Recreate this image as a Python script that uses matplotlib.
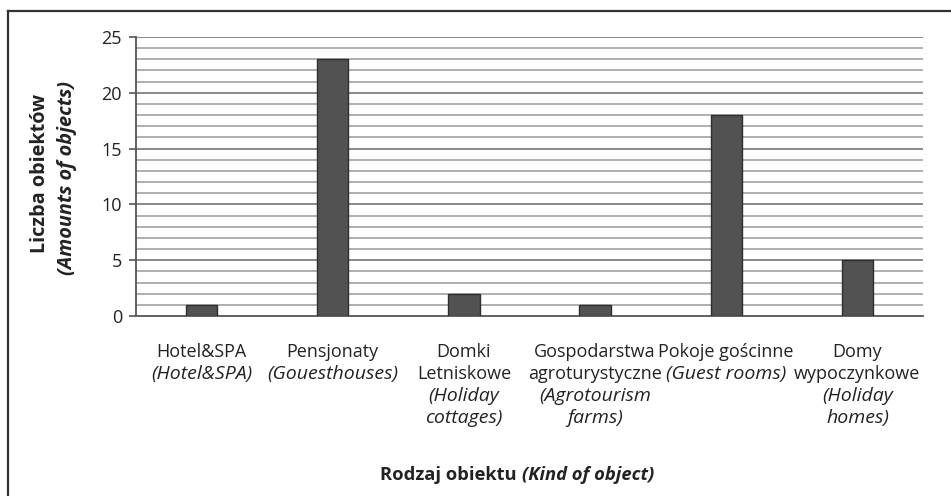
import matplotlib
matplotlib.use("Agg")
import matplotlib.pyplot as plt
import matplotlib.transforms as mtransforms
from matplotlib.lines import Line2D

# ---- data ----
labels_pl = ["Hotel&SPA", "Pensjonaty", "Domki\nLetniskowe", "Gospodarstwa\nagroturystyczne",
             "Pokoje gościnne", "Domy\nwypoczynkowe"]
labels_en = ["(Hotel&SPA)", "(Gouesthouses)", "(Holiday\ncottages)", "(Agrotourism\nfarms)",
             "(Guest rooms)", "(Holiday\nhomes)"]
counts = [1, 23, 2, 1, 18, 5]
y_ticks = [0, 5, 10, 15, 20, 25]

FONT = "Open Sans"
plt.rcParams['font.family'] = [FONT, 'DejaVu Sans']

W, H = 951, 496
fig = plt.figure(figsize=(W / 100, H / 100), dpi=100)
fig.patch.set_facecolor("white")

def fx(px):
    return px / W

def fy(py):
    return 1 - py / H

left, right, top, bottom = 136, 923, 37, 316
ax = fig.add_axes([fx(left), fy(bottom), fx(right - left), fy(top) - fy(bottom)])

x = list(range(len(counts)))
ax.bar(x, counts, width=0.24, color="#525252", edgecolor="#2e2e2e", linewidth=1.0, zorder=3)

ax.set_xlim(-0.5, len(counts) - 0.5)
ax.set_ylim(0, 25)
ax.set_yticks(y_ticks)
ax.set_yticklabels([str(v) for v in y_ticks], fontsize=13, color="#222222")
ax.set_yticks(range(0, 26), minor=True)
ax.tick_params(axis='y', which='major', length=5, width=1.2, color="#555555", pad=5)
ax.tick_params(axis='y', which='minor', length=0)
ax.set_xticks([])

# grid lines
for v in range(1, 26):
    major = (v % 5 == 0)
    ax.axhline(v, color="#6a6a6a" if major else "#9a9a9a", linewidth=1.1, zorder=1)

for s in ["top", "right"]:
    ax.spines[s].set_visible(False)
ax.spines["left"].set_color("#555555")
ax.spines["left"].set_linewidth(1.3)
ax.spines["bottom"].set_color("#555555")
ax.spines["bottom"].set_linewidth(1.3)

# category labels
trans = mtransforms.blended_transform_factory(ax.transData, fig.transFigure)
line_y0, dy = 352, 22
for i, (pl, en) in enumerate(zip(labels_pl, labels_en)):
    lines = [(t, "normal", 13) for t in pl.split("\n")] + [(t, "italic", 14) for t in en.split("\n")]
    for k, (t, st, fs) in enumerate(lines):
        ax.text(i, fy(line_y0 + k * dy), t, transform=trans, ha="center", va="center",
                fontsize=fs, style=st, color="#222222", clip_on=False)

# x-axis title
fig.text(fx(517), fy(475), "Rodzaj obiektu", ha="right", va="center",
         fontsize=13.2, fontweight="bold", color="#222222")
fig.text(fx(522), fy(475), "(Kind of object)", ha="left", va="center",
         fontsize=13.2, fontweight="bold", style="italic", color="#222222")

# y-axis title
fig.text(fx(40), fy(173), "Liczba obiektów", ha="center", va="center", rotation=90,
         fontsize=14.3, fontweight="bold", color="#222222")
fig.text(fx(67), fy(178), "(Amounts of objects)", ha="center", va="center", rotation=90,
         fontsize=14.3, fontweight="bold", style="italic", color="#222222")

# outer frame (left and top edges)
fig.add_artist(Line2D([fx(8), fx(8)], [fy(11), 0], color="#333333", linewidth=1.6))
fig.add_artist(Line2D([fx(8), 1], [fy(11), fy(11)], color="#333333", linewidth=1.6))

fig.savefig("out.png", dpi=100)
